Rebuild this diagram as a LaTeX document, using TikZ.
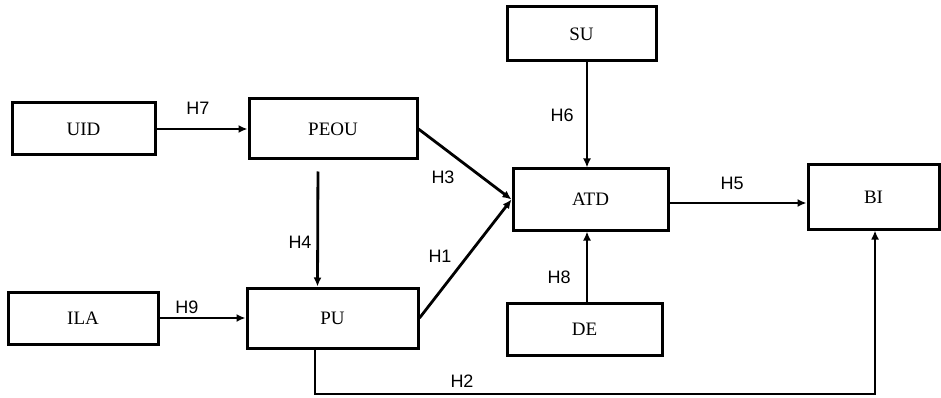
\documentclass[tikz,border=0pt]{standalone}
\usepackage{fontspec}
\setmainfont{Liberation Serif}
\newfontfamily\hfont{Liberation Sans}
\usetikzlibrary{arrows.meta}
\begin{document}
\begin{tikzpicture}[x=1pt,y=-1pt,
  box/.style={draw=black, line width=3pt, inner sep=0pt, font=\fontsize{19}{19}\selectfont},
  arr/.style={line width=2.8pt, -{Latex[length=9pt,width=8pt]}},
  hl/.style={font=\hfont\fontsize{18}{18}\selectfont, inner sep=0pt}]
\useasboundingbox (0,0) rectangle (941,398);
\fill[white] (0,0) rectangle (941,398);
\node[box, minimum width=149pt, minimum height=54pt] (SU) at (581.5,34) {SU};
\node[box, minimum width=143pt, minimum height=52pt] (UID) at (83.5,129) {UID};
\node[box, minimum width=168pt, minimum height=60pt] (PEOU) at (333,129) {PEOU};
\node[box, minimum width=155pt, minimum height=61pt] (ATD) at (590.5,199.5) {ATD};
\node[box, minimum width=131pt, minimum height=64pt] (BI) at (873.5,197) {BI};
\node[box, minimum width=150pt, minimum height=52pt] (ILA) at (83,318) {ILA};
\node[box, minimum width=171pt, minimum height=60pt] (PU) at (332.5,318) {PU};
\node[box, minimum width=155pt, minimum height=52pt] (DE) at (584.5,329) {DE};
\coordinate (c2) at (875,394);
\draw[arr] (UID.east) -- (PEOU.west);
\draw[arr] (ILA.east) -- (PU.west);
\draw[arr, shorten <=11pt] ([xshift=-15pt]PEOU.south) -- ([xshift=-15pt]PU.north);
\draw[arr] (PEOU.east) -- (ATD.west);
\draw[arr] (PU.east) -- (ATD.west);
\draw[arr] ([xshift=5.5pt]SU.south) -- ([xshift=-3.5pt]ATD.north);
\draw[arr] ([xshift=2.5pt]DE.north) -- ([xshift=-3.5pt]ATD.south);
\draw[arr] ([yshift=-3.5pt]ATD.east) -- ([yshift=-6pt]BI.west);
\draw[arr] ([xshift=-17.5pt]PU.south) |- (c2) -- ([xshift=1.5pt]BI.south);
\node[hl] (h7) at (198,108) {H7};
\node[hl] (h9) at (187,307) {H9};
\node[hl] (h4) at (300,242) {H4};
\node[hl] (h3) at (443,177) {H3};
\node[hl] (h1) at (440,256) {H1};
\node[hl] (h6) at (562,115) {H6};
\node[hl] (h8) at (559,277) {H8};
\node[hl] (h5) at (732,183) {H5};
\node[hl] (h2) at (462,381) {H2};
\end{tikzpicture}
\end{document}
